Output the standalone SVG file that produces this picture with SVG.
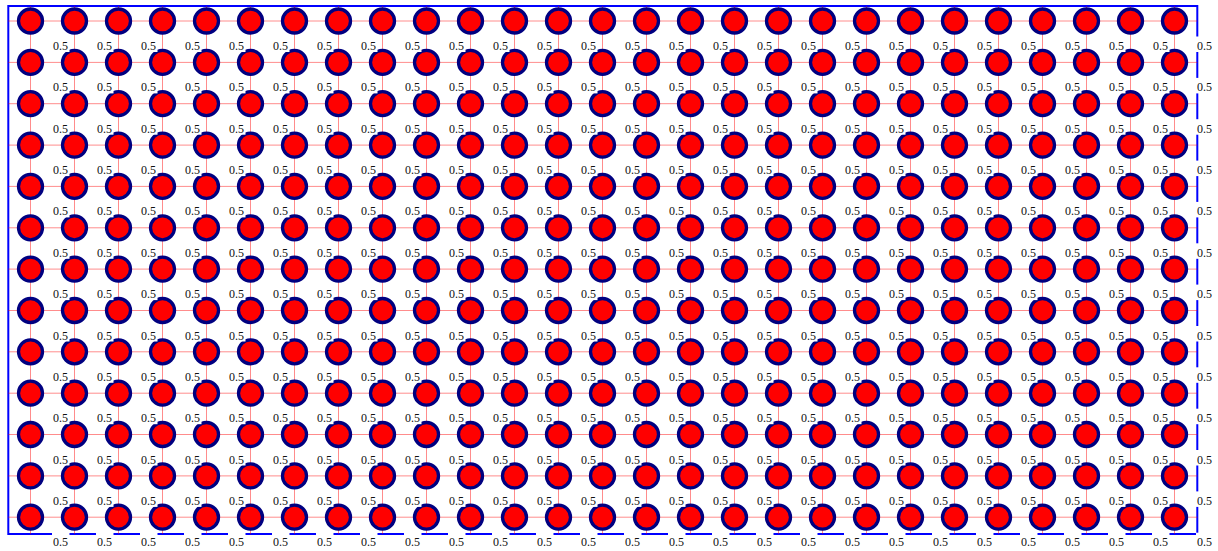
<svg xmlns="http://www.w3.org/2000/svg" width="1218" height="551" viewBox="0 0 1218 551">
<style>
#frame{fill:none;stroke:#0000ff;stroke-width:2}
#connectors line{stroke:#ff0000;stroke-opacity:0.45;stroke-width:1}
.n circle{fill:#ff0000;stroke:#000080;stroke-width:3.3}
.n rect{fill:#ffffff}
.n text{font-family:"Liberation Serif","Times New Roman",serif;font-size:12px;fill:#111}
</style>
<rect id="frame" x="8.3" y="6" width="1189" height="528"/>
<g id="connectors">
<line x1="8.3" x2="1197.3" y1="21" y2="21"/><line x1="8.3" x2="1197.3" y1="62.4" y2="62.4"/><line x1="8.3" x2="1197.3" y1="103.7" y2="103.7"/><line x1="8.3" x2="1197.3" y1="145.1" y2="145.1"/><line x1="8.3" x2="1197.3" y1="186.4" y2="186.4"/><line x1="8.3" x2="1197.3" y1="227.8" y2="227.8"/><line x1="8.3" x2="1197.3" y1="269.1" y2="269.1"/><line x1="8.3" x2="1197.3" y1="310.5" y2="310.5"/><line x1="8.3" x2="1197.3" y1="351.8" y2="351.8"/><line x1="8.3" x2="1197.3" y1="393.2" y2="393.2"/><line x1="8.3" x2="1197.3" y1="434.5" y2="434.5"/><line x1="8.3" x2="1197.3" y1="475.9" y2="475.9"/><line x1="8.3" x2="1197.3" y1="517.2" y2="517.2"/>
<line y1="6" y2="534" x1="30.5" x2="30.5"/><line y1="6" y2="534" x1="74.5" x2="74.5"/><line y1="6" y2="534" x1="118.5" x2="118.5"/><line y1="6" y2="534" x1="162.5" x2="162.5"/><line y1="6" y2="534" x1="206.5" x2="206.5"/><line y1="6" y2="534" x1="250.5" x2="250.5"/><line y1="6" y2="534" x1="294.5" x2="294.5"/><line y1="6" y2="534" x1="338.5" x2="338.5"/><line y1="6" y2="534" x1="382.5" x2="382.5"/><line y1="6" y2="534" x1="426.5" x2="426.5"/><line y1="6" y2="534" x1="470.5" x2="470.5"/><line y1="6" y2="534" x1="514.5" x2="514.5"/><line y1="6" y2="534" x1="558.5" x2="558.5"/><line y1="6" y2="534" x1="602.5" x2="602.5"/><line y1="6" y2="534" x1="646.5" x2="646.5"/><line y1="6" y2="534" x1="690.5" x2="690.5"/><line y1="6" y2="534" x1="734.5" x2="734.5"/><line y1="6" y2="534" x1="778.5" x2="778.5"/><line y1="6" y2="534" x1="822.5" x2="822.5"/><line y1="6" y2="534" x1="866.5" x2="866.5"/><line y1="6" y2="534" x1="910.5" x2="910.5"/><line y1="6" y2="534" x1="954.5" x2="954.5"/><line y1="6" y2="534" x1="998.5" x2="998.5"/><line y1="6" y2="534" x1="1042.5" x2="1042.5"/><line y1="6" y2="534" x1="1086.5" x2="1086.5"/><line y1="6" y2="534" x1="1130.5" x2="1130.5"/><line y1="6" y2="534" x1="1174.5" x2="1174.5"/>
</g>
<g id="nodes">
<g id="n12-26" class="n" transform="translate(1174.5 517.2)"><circle r="12"/><rect x="21.5" y="15.5" width="17.5" height="15.5"/><text x="22.5" y="29">0.5</text></g>
<g id="n12-25" class="n" transform="translate(1130.5 517.2)"><circle r="12"/><rect x="21.5" y="15.5" width="17.5" height="15.5"/><text x="22.5" y="29">0.5</text></g>
<g id="n12-24" class="n" transform="translate(1086.5 517.2)"><circle r="12"/><rect x="21.5" y="15.5" width="17.5" height="15.5"/><text x="22.5" y="29">0.5</text></g>
<g id="n12-23" class="n" transform="translate(1042.5 517.2)"><circle r="12"/><rect x="21.5" y="15.5" width="17.5" height="15.5"/><text x="22.5" y="29">0.5</text></g>
<g id="n12-22" class="n" transform="translate(998.5 517.2)"><circle r="12"/><rect x="21.5" y="15.5" width="17.5" height="15.5"/><text x="22.5" y="29">0.5</text></g>
<g id="n12-21" class="n" transform="translate(954.5 517.2)"><circle r="12"/><rect x="21.5" y="15.5" width="17.5" height="15.5"/><text x="22.5" y="29">0.5</text></g>
<g id="n12-20" class="n" transform="translate(910.5 517.2)"><circle r="12"/><rect x="21.5" y="15.5" width="17.5" height="15.5"/><text x="22.5" y="29">0.5</text></g>
<g id="n12-19" class="n" transform="translate(866.5 517.2)"><circle r="12"/><rect x="21.5" y="15.5" width="17.5" height="15.5"/><text x="22.5" y="29">0.5</text></g>
<g id="n12-18" class="n" transform="translate(822.5 517.2)"><circle r="12"/><rect x="21.5" y="15.5" width="17.5" height="15.5"/><text x="22.5" y="29">0.5</text></g>
<g id="n12-17" class="n" transform="translate(778.5 517.2)"><circle r="12"/><rect x="21.5" y="15.5" width="17.5" height="15.5"/><text x="22.5" y="29">0.5</text></g>
<g id="n12-16" class="n" transform="translate(734.5 517.2)"><circle r="12"/><rect x="21.5" y="15.5" width="17.5" height="15.5"/><text x="22.5" y="29">0.5</text></g>
<g id="n12-15" class="n" transform="translate(690.5 517.2)"><circle r="12"/><rect x="21.5" y="15.5" width="17.5" height="15.5"/><text x="22.5" y="29">0.5</text></g>
<g id="n12-14" class="n" transform="translate(646.5 517.2)"><circle r="12"/><rect x="21.5" y="15.5" width="17.5" height="15.5"/><text x="22.5" y="29">0.5</text></g>
<g id="n12-13" class="n" transform="translate(602.5 517.2)"><circle r="12"/><rect x="21.5" y="15.5" width="17.5" height="15.5"/><text x="22.5" y="29">0.5</text></g>
<g id="n12-12" class="n" transform="translate(558.5 517.2)"><circle r="12"/><rect x="21.5" y="15.5" width="17.5" height="15.5"/><text x="22.5" y="29">0.5</text></g>
<g id="n12-11" class="n" transform="translate(514.5 517.2)"><circle r="12"/><rect x="21.5" y="15.5" width="17.5" height="15.5"/><text x="22.5" y="29">0.5</text></g>
<g id="n12-10" class="n" transform="translate(470.5 517.2)"><circle r="12"/><rect x="21.5" y="15.5" width="17.5" height="15.5"/><text x="22.5" y="29">0.5</text></g>
<g id="n12-9" class="n" transform="translate(426.5 517.2)"><circle r="12"/><rect x="21.5" y="15.5" width="17.5" height="15.5"/><text x="22.5" y="29">0.5</text></g>
<g id="n12-8" class="n" transform="translate(382.5 517.2)"><circle r="12"/><rect x="21.5" y="15.5" width="17.5" height="15.5"/><text x="22.5" y="29">0.5</text></g>
<g id="n12-7" class="n" transform="translate(338.5 517.2)"><circle r="12"/><rect x="21.5" y="15.5" width="17.5" height="15.5"/><text x="22.5" y="29">0.5</text></g>
<g id="n12-6" class="n" transform="translate(294.5 517.2)"><circle r="12"/><rect x="21.5" y="15.5" width="17.5" height="15.5"/><text x="22.5" y="29">0.5</text></g>
<g id="n12-5" class="n" transform="translate(250.5 517.2)"><circle r="12"/><rect x="21.5" y="15.5" width="17.5" height="15.5"/><text x="22.5" y="29">0.5</text></g>
<g id="n12-4" class="n" transform="translate(206.5 517.2)"><circle r="12"/><rect x="21.5" y="15.5" width="17.5" height="15.5"/><text x="22.5" y="29">0.5</text></g>
<g id="n12-3" class="n" transform="translate(162.5 517.2)"><circle r="12"/><rect x="21.5" y="15.5" width="17.5" height="15.5"/><text x="22.5" y="29">0.5</text></g>
<g id="n12-2" class="n" transform="translate(118.5 517.2)"><circle r="12"/><rect x="21.5" y="15.5" width="17.5" height="15.5"/><text x="22.5" y="29">0.5</text></g>
<g id="n12-1" class="n" transform="translate(74.5 517.2)"><circle r="12"/><rect x="21.5" y="15.5" width="17.5" height="15.5"/><text x="22.5" y="29">0.5</text></g>
<g id="n12-0" class="n" transform="translate(30.5 517.2)"><circle r="12"/><rect x="21.5" y="15.5" width="17.5" height="15.5"/><text x="22.5" y="29">0.5</text></g>
<g id="n11-26" class="n" transform="translate(1174.5 475.9)"><circle r="12"/><rect x="21.5" y="15.5" width="17.5" height="15.5"/><text x="22.5" y="29">0.5</text></g>
<g id="n11-25" class="n" transform="translate(1130.5 475.9)"><circle r="12"/><rect x="21.5" y="15.5" width="17.5" height="15.5"/><text x="22.5" y="29">0.5</text></g>
<g id="n11-24" class="n" transform="translate(1086.5 475.9)"><circle r="12"/><rect x="21.5" y="15.5" width="17.5" height="15.5"/><text x="22.5" y="29">0.5</text></g>
<g id="n11-23" class="n" transform="translate(1042.5 475.9)"><circle r="12"/><rect x="21.5" y="15.5" width="17.5" height="15.5"/><text x="22.5" y="29">0.5</text></g>
<g id="n11-22" class="n" transform="translate(998.5 475.9)"><circle r="12"/><rect x="21.5" y="15.5" width="17.5" height="15.5"/><text x="22.5" y="29">0.5</text></g>
<g id="n11-21" class="n" transform="translate(954.5 475.9)"><circle r="12"/><rect x="21.5" y="15.5" width="17.5" height="15.5"/><text x="22.5" y="29">0.5</text></g>
<g id="n11-20" class="n" transform="translate(910.5 475.9)"><circle r="12"/><rect x="21.5" y="15.5" width="17.5" height="15.5"/><text x="22.5" y="29">0.5</text></g>
<g id="n11-19" class="n" transform="translate(866.5 475.9)"><circle r="12"/><rect x="21.5" y="15.5" width="17.5" height="15.5"/><text x="22.5" y="29">0.5</text></g>
<g id="n11-18" class="n" transform="translate(822.5 475.9)"><circle r="12"/><rect x="21.5" y="15.5" width="17.5" height="15.5"/><text x="22.5" y="29">0.5</text></g>
<g id="n11-17" class="n" transform="translate(778.5 475.9)"><circle r="12"/><rect x="21.5" y="15.5" width="17.5" height="15.5"/><text x="22.5" y="29">0.5</text></g>
<g id="n11-16" class="n" transform="translate(734.5 475.9)"><circle r="12"/><rect x="21.5" y="15.5" width="17.5" height="15.5"/><text x="22.5" y="29">0.5</text></g>
<g id="n11-15" class="n" transform="translate(690.5 475.9)"><circle r="12"/><rect x="21.5" y="15.5" width="17.5" height="15.5"/><text x="22.5" y="29">0.5</text></g>
<g id="n11-14" class="n" transform="translate(646.5 475.9)"><circle r="12"/><rect x="21.5" y="15.5" width="17.5" height="15.5"/><text x="22.5" y="29">0.5</text></g>
<g id="n11-13" class="n" transform="translate(602.5 475.9)"><circle r="12"/><rect x="21.5" y="15.5" width="17.5" height="15.5"/><text x="22.5" y="29">0.5</text></g>
<g id="n11-12" class="n" transform="translate(558.5 475.9)"><circle r="12"/><rect x="21.5" y="15.5" width="17.5" height="15.5"/><text x="22.5" y="29">0.5</text></g>
<g id="n11-11" class="n" transform="translate(514.5 475.9)"><circle r="12"/><rect x="21.5" y="15.5" width="17.5" height="15.5"/><text x="22.5" y="29">0.5</text></g>
<g id="n11-10" class="n" transform="translate(470.5 475.9)"><circle r="12"/><rect x="21.5" y="15.5" width="17.5" height="15.5"/><text x="22.5" y="29">0.5</text></g>
<g id="n11-9" class="n" transform="translate(426.5 475.9)"><circle r="12"/><rect x="21.5" y="15.5" width="17.5" height="15.5"/><text x="22.5" y="29">0.5</text></g>
<g id="n11-8" class="n" transform="translate(382.5 475.9)"><circle r="12"/><rect x="21.5" y="15.5" width="17.5" height="15.5"/><text x="22.5" y="29">0.5</text></g>
<g id="n11-7" class="n" transform="translate(338.5 475.9)"><circle r="12"/><rect x="21.5" y="15.5" width="17.5" height="15.5"/><text x="22.5" y="29">0.5</text></g>
<g id="n11-6" class="n" transform="translate(294.5 475.9)"><circle r="12"/><rect x="21.5" y="15.5" width="17.5" height="15.5"/><text x="22.5" y="29">0.5</text></g>
<g id="n11-5" class="n" transform="translate(250.5 475.9)"><circle r="12"/><rect x="21.5" y="15.5" width="17.5" height="15.5"/><text x="22.5" y="29">0.5</text></g>
<g id="n11-4" class="n" transform="translate(206.5 475.9)"><circle r="12"/><rect x="21.5" y="15.5" width="17.5" height="15.5"/><text x="22.5" y="29">0.5</text></g>
<g id="n11-3" class="n" transform="translate(162.5 475.9)"><circle r="12"/><rect x="21.5" y="15.5" width="17.5" height="15.5"/><text x="22.5" y="29">0.5</text></g>
<g id="n11-2" class="n" transform="translate(118.5 475.9)"><circle r="12"/><rect x="21.5" y="15.5" width="17.5" height="15.5"/><text x="22.5" y="29">0.5</text></g>
<g id="n11-1" class="n" transform="translate(74.5 475.9)"><circle r="12"/><rect x="21.5" y="15.5" width="17.5" height="15.5"/><text x="22.5" y="29">0.5</text></g>
<g id="n11-0" class="n" transform="translate(30.5 475.9)"><circle r="12"/><rect x="21.5" y="15.5" width="17.5" height="15.5"/><text x="22.5" y="29">0.5</text></g>
<g id="n10-26" class="n" transform="translate(1174.5 434.5)"><circle r="12"/><rect x="21.5" y="15.5" width="17.5" height="15.5"/><text x="22.5" y="29">0.5</text></g>
<g id="n10-25" class="n" transform="translate(1130.5 434.5)"><circle r="12"/><rect x="21.5" y="15.5" width="17.5" height="15.5"/><text x="22.5" y="29">0.5</text></g>
<g id="n10-24" class="n" transform="translate(1086.5 434.5)"><circle r="12"/><rect x="21.5" y="15.5" width="17.5" height="15.5"/><text x="22.5" y="29">0.5</text></g>
<g id="n10-23" class="n" transform="translate(1042.5 434.5)"><circle r="12"/><rect x="21.5" y="15.5" width="17.5" height="15.5"/><text x="22.5" y="29">0.5</text></g>
<g id="n10-22" class="n" transform="translate(998.5 434.5)"><circle r="12"/><rect x="21.5" y="15.5" width="17.5" height="15.5"/><text x="22.5" y="29">0.5</text></g>
<g id="n10-21" class="n" transform="translate(954.5 434.5)"><circle r="12"/><rect x="21.5" y="15.5" width="17.5" height="15.5"/><text x="22.5" y="29">0.5</text></g>
<g id="n10-20" class="n" transform="translate(910.5 434.5)"><circle r="12"/><rect x="21.5" y="15.5" width="17.5" height="15.5"/><text x="22.5" y="29">0.5</text></g>
<g id="n10-19" class="n" transform="translate(866.5 434.5)"><circle r="12"/><rect x="21.5" y="15.5" width="17.5" height="15.5"/><text x="22.5" y="29">0.5</text></g>
<g id="n10-18" class="n" transform="translate(822.5 434.5)"><circle r="12"/><rect x="21.5" y="15.5" width="17.5" height="15.5"/><text x="22.5" y="29">0.5</text></g>
<g id="n10-17" class="n" transform="translate(778.5 434.5)"><circle r="12"/><rect x="21.5" y="15.5" width="17.5" height="15.5"/><text x="22.5" y="29">0.5</text></g>
<g id="n10-16" class="n" transform="translate(734.5 434.5)"><circle r="12"/><rect x="21.5" y="15.5" width="17.5" height="15.5"/><text x="22.5" y="29">0.5</text></g>
<g id="n10-15" class="n" transform="translate(690.5 434.5)"><circle r="12"/><rect x="21.5" y="15.5" width="17.5" height="15.5"/><text x="22.5" y="29">0.5</text></g>
<g id="n10-14" class="n" transform="translate(646.5 434.5)"><circle r="12"/><rect x="21.5" y="15.5" width="17.5" height="15.5"/><text x="22.5" y="29">0.5</text></g>
<g id="n10-13" class="n" transform="translate(602.5 434.5)"><circle r="12"/><rect x="21.5" y="15.5" width="17.5" height="15.5"/><text x="22.5" y="29">0.5</text></g>
<g id="n10-12" class="n" transform="translate(558.5 434.5)"><circle r="12"/><rect x="21.5" y="15.5" width="17.5" height="15.5"/><text x="22.5" y="29">0.5</text></g>
<g id="n10-11" class="n" transform="translate(514.5 434.5)"><circle r="12"/><rect x="21.5" y="15.5" width="17.5" height="15.5"/><text x="22.5" y="29">0.5</text></g>
<g id="n10-10" class="n" transform="translate(470.5 434.5)"><circle r="12"/><rect x="21.5" y="15.5" width="17.5" height="15.5"/><text x="22.5" y="29">0.5</text></g>
<g id="n10-9" class="n" transform="translate(426.5 434.5)"><circle r="12"/><rect x="21.5" y="15.5" width="17.5" height="15.5"/><text x="22.5" y="29">0.5</text></g>
<g id="n10-8" class="n" transform="translate(382.5 434.5)"><circle r="12"/><rect x="21.5" y="15.5" width="17.5" height="15.5"/><text x="22.5" y="29">0.5</text></g>
<g id="n10-7" class="n" transform="translate(338.5 434.5)"><circle r="12"/><rect x="21.5" y="15.5" width="17.5" height="15.5"/><text x="22.5" y="29">0.5</text></g>
<g id="n10-6" class="n" transform="translate(294.5 434.5)"><circle r="12"/><rect x="21.5" y="15.5" width="17.5" height="15.5"/><text x="22.5" y="29">0.5</text></g>
<g id="n10-5" class="n" transform="translate(250.5 434.5)"><circle r="12"/><rect x="21.5" y="15.5" width="17.5" height="15.5"/><text x="22.5" y="29">0.5</text></g>
<g id="n10-4" class="n" transform="translate(206.5 434.5)"><circle r="12"/><rect x="21.5" y="15.5" width="17.5" height="15.5"/><text x="22.5" y="29">0.5</text></g>
<g id="n10-3" class="n" transform="translate(162.5 434.5)"><circle r="12"/><rect x="21.5" y="15.5" width="17.5" height="15.5"/><text x="22.5" y="29">0.5</text></g>
<g id="n10-2" class="n" transform="translate(118.5 434.5)"><circle r="12"/><rect x="21.5" y="15.5" width="17.5" height="15.5"/><text x="22.5" y="29">0.5</text></g>
<g id="n10-1" class="n" transform="translate(74.5 434.5)"><circle r="12"/><rect x="21.5" y="15.5" width="17.5" height="15.5"/><text x="22.5" y="29">0.5</text></g>
<g id="n10-0" class="n" transform="translate(30.5 434.5)"><circle r="12"/><rect x="21.5" y="15.5" width="17.5" height="15.5"/><text x="22.5" y="29">0.5</text></g>
<g id="n9-26" class="n" transform="translate(1174.5 393.2)"><circle r="12"/><rect x="21.5" y="15.5" width="17.5" height="15.5"/><text x="22.5" y="29">0.5</text></g>
<g id="n9-25" class="n" transform="translate(1130.5 393.2)"><circle r="12"/><rect x="21.5" y="15.5" width="17.5" height="15.5"/><text x="22.5" y="29">0.5</text></g>
<g id="n9-24" class="n" transform="translate(1086.5 393.2)"><circle r="12"/><rect x="21.5" y="15.5" width="17.5" height="15.5"/><text x="22.5" y="29">0.5</text></g>
<g id="n9-23" class="n" transform="translate(1042.5 393.2)"><circle r="12"/><rect x="21.5" y="15.5" width="17.5" height="15.5"/><text x="22.5" y="29">0.5</text></g>
<g id="n9-22" class="n" transform="translate(998.5 393.2)"><circle r="12"/><rect x="21.5" y="15.5" width="17.5" height="15.5"/><text x="22.5" y="29">0.5</text></g>
<g id="n9-21" class="n" transform="translate(954.5 393.2)"><circle r="12"/><rect x="21.5" y="15.5" width="17.5" height="15.5"/><text x="22.5" y="29">0.5</text></g>
<g id="n9-20" class="n" transform="translate(910.5 393.2)"><circle r="12"/><rect x="21.5" y="15.5" width="17.5" height="15.5"/><text x="22.5" y="29">0.5</text></g>
<g id="n9-19" class="n" transform="translate(866.5 393.2)"><circle r="12"/><rect x="21.5" y="15.5" width="17.5" height="15.5"/><text x="22.5" y="29">0.5</text></g>
<g id="n9-18" class="n" transform="translate(822.5 393.2)"><circle r="12"/><rect x="21.5" y="15.5" width="17.5" height="15.5"/><text x="22.5" y="29">0.5</text></g>
<g id="n9-17" class="n" transform="translate(778.5 393.2)"><circle r="12"/><rect x="21.5" y="15.5" width="17.5" height="15.5"/><text x="22.5" y="29">0.5</text></g>
<g id="n9-16" class="n" transform="translate(734.5 393.2)"><circle r="12"/><rect x="21.5" y="15.5" width="17.5" height="15.5"/><text x="22.5" y="29">0.5</text></g>
<g id="n9-15" class="n" transform="translate(690.5 393.2)"><circle r="12"/><rect x="21.5" y="15.5" width="17.5" height="15.5"/><text x="22.5" y="29">0.5</text></g>
<g id="n9-14" class="n" transform="translate(646.5 393.2)"><circle r="12"/><rect x="21.5" y="15.5" width="17.5" height="15.5"/><text x="22.5" y="29">0.5</text></g>
<g id="n9-13" class="n" transform="translate(602.5 393.2)"><circle r="12"/><rect x="21.5" y="15.5" width="17.5" height="15.5"/><text x="22.5" y="29">0.5</text></g>
<g id="n9-12" class="n" transform="translate(558.5 393.2)"><circle r="12"/><rect x="21.5" y="15.5" width="17.5" height="15.5"/><text x="22.5" y="29">0.5</text></g>
<g id="n9-11" class="n" transform="translate(514.5 393.2)"><circle r="12"/><rect x="21.5" y="15.5" width="17.5" height="15.5"/><text x="22.5" y="29">0.5</text></g>
<g id="n9-10" class="n" transform="translate(470.5 393.2)"><circle r="12"/><rect x="21.5" y="15.5" width="17.5" height="15.5"/><text x="22.5" y="29">0.5</text></g>
<g id="n9-9" class="n" transform="translate(426.5 393.2)"><circle r="12"/><rect x="21.5" y="15.5" width="17.5" height="15.5"/><text x="22.5" y="29">0.5</text></g>
<g id="n9-8" class="n" transform="translate(382.5 393.2)"><circle r="12"/><rect x="21.5" y="15.5" width="17.5" height="15.5"/><text x="22.5" y="29">0.5</text></g>
<g id="n9-7" class="n" transform="translate(338.5 393.2)"><circle r="12"/><rect x="21.5" y="15.5" width="17.5" height="15.5"/><text x="22.5" y="29">0.5</text></g>
<g id="n9-6" class="n" transform="translate(294.5 393.2)"><circle r="12"/><rect x="21.5" y="15.5" width="17.5" height="15.5"/><text x="22.5" y="29">0.5</text></g>
<g id="n9-5" class="n" transform="translate(250.5 393.2)"><circle r="12"/><rect x="21.5" y="15.5" width="17.5" height="15.5"/><text x="22.5" y="29">0.5</text></g>
<g id="n9-4" class="n" transform="translate(206.5 393.2)"><circle r="12"/><rect x="21.5" y="15.5" width="17.5" height="15.5"/><text x="22.5" y="29">0.5</text></g>
<g id="n9-3" class="n" transform="translate(162.5 393.2)"><circle r="12"/><rect x="21.5" y="15.5" width="17.5" height="15.5"/><text x="22.5" y="29">0.5</text></g>
<g id="n9-2" class="n" transform="translate(118.5 393.2)"><circle r="12"/><rect x="21.5" y="15.5" width="17.5" height="15.5"/><text x="22.5" y="29">0.5</text></g>
<g id="n9-1" class="n" transform="translate(74.5 393.2)"><circle r="12"/><rect x="21.5" y="15.5" width="17.5" height="15.5"/><text x="22.5" y="29">0.5</text></g>
<g id="n9-0" class="n" transform="translate(30.5 393.2)"><circle r="12"/><rect x="21.5" y="15.5" width="17.5" height="15.5"/><text x="22.5" y="29">0.5</text></g>
<g id="n8-26" class="n" transform="translate(1174.5 351.8)"><circle r="12"/><rect x="21.5" y="15.5" width="17.5" height="15.5"/><text x="22.5" y="29">0.5</text></g>
<g id="n8-25" class="n" transform="translate(1130.5 351.8)"><circle r="12"/><rect x="21.5" y="15.5" width="17.5" height="15.5"/><text x="22.5" y="29">0.5</text></g>
<g id="n8-24" class="n" transform="translate(1086.5 351.8)"><circle r="12"/><rect x="21.5" y="15.5" width="17.5" height="15.5"/><text x="22.5" y="29">0.5</text></g>
<g id="n8-23" class="n" transform="translate(1042.5 351.8)"><circle r="12"/><rect x="21.5" y="15.5" width="17.5" height="15.5"/><text x="22.5" y="29">0.5</text></g>
<g id="n8-22" class="n" transform="translate(998.5 351.8)"><circle r="12"/><rect x="21.5" y="15.5" width="17.5" height="15.5"/><text x="22.5" y="29">0.5</text></g>
<g id="n8-21" class="n" transform="translate(954.5 351.8)"><circle r="12"/><rect x="21.5" y="15.5" width="17.5" height="15.5"/><text x="22.5" y="29">0.5</text></g>
<g id="n8-20" class="n" transform="translate(910.5 351.8)"><circle r="12"/><rect x="21.5" y="15.5" width="17.5" height="15.5"/><text x="22.5" y="29">0.5</text></g>
<g id="n8-19" class="n" transform="translate(866.5 351.8)"><circle r="12"/><rect x="21.5" y="15.5" width="17.5" height="15.5"/><text x="22.5" y="29">0.5</text></g>
<g id="n8-18" class="n" transform="translate(822.5 351.8)"><circle r="12"/><rect x="21.5" y="15.5" width="17.5" height="15.5"/><text x="22.5" y="29">0.5</text></g>
<g id="n8-17" class="n" transform="translate(778.5 351.8)"><circle r="12"/><rect x="21.5" y="15.5" width="17.5" height="15.5"/><text x="22.5" y="29">0.5</text></g>
<g id="n8-16" class="n" transform="translate(734.5 351.8)"><circle r="12"/><rect x="21.5" y="15.5" width="17.5" height="15.5"/><text x="22.5" y="29">0.5</text></g>
<g id="n8-15" class="n" transform="translate(690.5 351.8)"><circle r="12"/><rect x="21.5" y="15.5" width="17.5" height="15.5"/><text x="22.5" y="29">0.5</text></g>
<g id="n8-14" class="n" transform="translate(646.5 351.8)"><circle r="12"/><rect x="21.5" y="15.5" width="17.5" height="15.5"/><text x="22.5" y="29">0.5</text></g>
<g id="n8-13" class="n" transform="translate(602.5 351.8)"><circle r="12"/><rect x="21.5" y="15.5" width="17.5" height="15.5"/><text x="22.5" y="29">0.5</text></g>
<g id="n8-12" class="n" transform="translate(558.5 351.8)"><circle r="12"/><rect x="21.5" y="15.5" width="17.5" height="15.5"/><text x="22.5" y="29">0.5</text></g>
<g id="n8-11" class="n" transform="translate(514.5 351.8)"><circle r="12"/><rect x="21.5" y="15.5" width="17.5" height="15.5"/><text x="22.5" y="29">0.5</text></g>
<g id="n8-10" class="n" transform="translate(470.5 351.8)"><circle r="12"/><rect x="21.5" y="15.5" width="17.5" height="15.5"/><text x="22.5" y="29">0.5</text></g>
<g id="n8-9" class="n" transform="translate(426.5 351.8)"><circle r="12"/><rect x="21.5" y="15.5" width="17.5" height="15.5"/><text x="22.5" y="29">0.5</text></g>
<g id="n8-8" class="n" transform="translate(382.5 351.8)"><circle r="12"/><rect x="21.5" y="15.5" width="17.5" height="15.5"/><text x="22.5" y="29">0.5</text></g>
<g id="n8-7" class="n" transform="translate(338.5 351.8)"><circle r="12"/><rect x="21.5" y="15.5" width="17.5" height="15.5"/><text x="22.5" y="29">0.5</text></g>
<g id="n8-6" class="n" transform="translate(294.5 351.8)"><circle r="12"/><rect x="21.5" y="15.5" width="17.5" height="15.5"/><text x="22.5" y="29">0.5</text></g>
<g id="n8-5" class="n" transform="translate(250.5 351.8)"><circle r="12"/><rect x="21.5" y="15.5" width="17.5" height="15.5"/><text x="22.5" y="29">0.5</text></g>
<g id="n8-4" class="n" transform="translate(206.5 351.8)"><circle r="12"/><rect x="21.5" y="15.5" width="17.5" height="15.5"/><text x="22.5" y="29">0.5</text></g>
<g id="n8-3" class="n" transform="translate(162.5 351.8)"><circle r="12"/><rect x="21.5" y="15.5" width="17.5" height="15.5"/><text x="22.5" y="29">0.5</text></g>
<g id="n8-2" class="n" transform="translate(118.5 351.8)"><circle r="12"/><rect x="21.5" y="15.5" width="17.5" height="15.5"/><text x="22.5" y="29">0.5</text></g>
<g id="n8-1" class="n" transform="translate(74.5 351.8)"><circle r="12"/><rect x="21.5" y="15.5" width="17.5" height="15.5"/><text x="22.5" y="29">0.5</text></g>
<g id="n8-0" class="n" transform="translate(30.5 351.8)"><circle r="12"/><rect x="21.5" y="15.5" width="17.5" height="15.5"/><text x="22.5" y="29">0.5</text></g>
<g id="n7-26" class="n" transform="translate(1174.5 310.5)"><circle r="12"/><rect x="21.5" y="15.5" width="17.5" height="15.5"/><text x="22.5" y="29">0.5</text></g>
<g id="n7-25" class="n" transform="translate(1130.5 310.5)"><circle r="12"/><rect x="21.5" y="15.5" width="17.5" height="15.5"/><text x="22.5" y="29">0.5</text></g>
<g id="n7-24" class="n" transform="translate(1086.5 310.5)"><circle r="12"/><rect x="21.5" y="15.5" width="17.5" height="15.5"/><text x="22.5" y="29">0.5</text></g>
<g id="n7-23" class="n" transform="translate(1042.5 310.5)"><circle r="12"/><rect x="21.5" y="15.5" width="17.5" height="15.5"/><text x="22.5" y="29">0.5</text></g>
<g id="n7-22" class="n" transform="translate(998.5 310.5)"><circle r="12"/><rect x="21.5" y="15.5" width="17.5" height="15.5"/><text x="22.5" y="29">0.5</text></g>
<g id="n7-21" class="n" transform="translate(954.5 310.5)"><circle r="12"/><rect x="21.5" y="15.5" width="17.5" height="15.5"/><text x="22.5" y="29">0.5</text></g>
<g id="n7-20" class="n" transform="translate(910.5 310.5)"><circle r="12"/><rect x="21.5" y="15.5" width="17.5" height="15.5"/><text x="22.5" y="29">0.5</text></g>
<g id="n7-19" class="n" transform="translate(866.5 310.5)"><circle r="12"/><rect x="21.5" y="15.5" width="17.5" height="15.5"/><text x="22.5" y="29">0.5</text></g>
<g id="n7-18" class="n" transform="translate(822.5 310.5)"><circle r="12"/><rect x="21.5" y="15.5" width="17.5" height="15.5"/><text x="22.5" y="29">0.5</text></g>
<g id="n7-17" class="n" transform="translate(778.5 310.5)"><circle r="12"/><rect x="21.5" y="15.5" width="17.5" height="15.5"/><text x="22.5" y="29">0.5</text></g>
<g id="n7-16" class="n" transform="translate(734.5 310.5)"><circle r="12"/><rect x="21.5" y="15.5" width="17.5" height="15.5"/><text x="22.5" y="29">0.5</text></g>
<g id="n7-15" class="n" transform="translate(690.5 310.5)"><circle r="12"/><rect x="21.5" y="15.5" width="17.5" height="15.5"/><text x="22.5" y="29">0.5</text></g>
<g id="n7-14" class="n" transform="translate(646.5 310.5)"><circle r="12"/><rect x="21.5" y="15.5" width="17.5" height="15.5"/><text x="22.5" y="29">0.5</text></g>
<g id="n7-13" class="n" transform="translate(602.5 310.5)"><circle r="12"/><rect x="21.5" y="15.5" width="17.5" height="15.5"/><text x="22.5" y="29">0.5</text></g>
<g id="n7-12" class="n" transform="translate(558.5 310.5)"><circle r="12"/><rect x="21.5" y="15.5" width="17.5" height="15.5"/><text x="22.5" y="29">0.5</text></g>
<g id="n7-11" class="n" transform="translate(514.5 310.5)"><circle r="12"/><rect x="21.5" y="15.5" width="17.5" height="15.5"/><text x="22.5" y="29">0.5</text></g>
<g id="n7-10" class="n" transform="translate(470.5 310.5)"><circle r="12"/><rect x="21.5" y="15.5" width="17.5" height="15.5"/><text x="22.5" y="29">0.5</text></g>
<g id="n7-9" class="n" transform="translate(426.5 310.5)"><circle r="12"/><rect x="21.5" y="15.5" width="17.5" height="15.5"/><text x="22.5" y="29">0.5</text></g>
<g id="n7-8" class="n" transform="translate(382.5 310.5)"><circle r="12"/><rect x="21.5" y="15.5" width="17.5" height="15.5"/><text x="22.5" y="29">0.5</text></g>
<g id="n7-7" class="n" transform="translate(338.5 310.5)"><circle r="12"/><rect x="21.5" y="15.5" width="17.5" height="15.5"/><text x="22.5" y="29">0.5</text></g>
<g id="n7-6" class="n" transform="translate(294.5 310.5)"><circle r="12"/><rect x="21.5" y="15.5" width="17.5" height="15.5"/><text x="22.5" y="29">0.5</text></g>
<g id="n7-5" class="n" transform="translate(250.5 310.5)"><circle r="12"/><rect x="21.5" y="15.5" width="17.5" height="15.5"/><text x="22.5" y="29">0.5</text></g>
<g id="n7-4" class="n" transform="translate(206.5 310.5)"><circle r="12"/><rect x="21.5" y="15.5" width="17.5" height="15.5"/><text x="22.5" y="29">0.5</text></g>
<g id="n7-3" class="n" transform="translate(162.5 310.5)"><circle r="12"/><rect x="21.5" y="15.5" width="17.5" height="15.5"/><text x="22.5" y="29">0.5</text></g>
<g id="n7-2" class="n" transform="translate(118.5 310.5)"><circle r="12"/><rect x="21.5" y="15.5" width="17.5" height="15.5"/><text x="22.5" y="29">0.5</text></g>
<g id="n7-1" class="n" transform="translate(74.5 310.5)"><circle r="12"/><rect x="21.5" y="15.5" width="17.5" height="15.5"/><text x="22.5" y="29">0.5</text></g>
<g id="n7-0" class="n" transform="translate(30.5 310.5)"><circle r="12"/><rect x="21.5" y="15.5" width="17.5" height="15.5"/><text x="22.5" y="29">0.5</text></g>
<g id="n6-26" class="n" transform="translate(1174.5 269.1)"><circle r="12"/><rect x="21.5" y="15.5" width="17.5" height="15.5"/><text x="22.5" y="29">0.5</text></g>
<g id="n6-25" class="n" transform="translate(1130.5 269.1)"><circle r="12"/><rect x="21.5" y="15.5" width="17.5" height="15.5"/><text x="22.5" y="29">0.5</text></g>
<g id="n6-24" class="n" transform="translate(1086.5 269.1)"><circle r="12"/><rect x="21.5" y="15.5" width="17.5" height="15.5"/><text x="22.5" y="29">0.5</text></g>
<g id="n6-23" class="n" transform="translate(1042.5 269.1)"><circle r="12"/><rect x="21.5" y="15.5" width="17.5" height="15.5"/><text x="22.5" y="29">0.5</text></g>
<g id="n6-22" class="n" transform="translate(998.5 269.1)"><circle r="12"/><rect x="21.5" y="15.5" width="17.5" height="15.5"/><text x="22.5" y="29">0.5</text></g>
<g id="n6-21" class="n" transform="translate(954.5 269.1)"><circle r="12"/><rect x="21.5" y="15.5" width="17.5" height="15.5"/><text x="22.5" y="29">0.5</text></g>
<g id="n6-20" class="n" transform="translate(910.5 269.1)"><circle r="12"/><rect x="21.5" y="15.5" width="17.5" height="15.5"/><text x="22.5" y="29">0.5</text></g>
<g id="n6-19" class="n" transform="translate(866.5 269.1)"><circle r="12"/><rect x="21.5" y="15.5" width="17.5" height="15.5"/><text x="22.5" y="29">0.5</text></g>
<g id="n6-18" class="n" transform="translate(822.5 269.1)"><circle r="12"/><rect x="21.5" y="15.5" width="17.5" height="15.5"/><text x="22.5" y="29">0.5</text></g>
<g id="n6-17" class="n" transform="translate(778.5 269.1)"><circle r="12"/><rect x="21.5" y="15.5" width="17.5" height="15.5"/><text x="22.5" y="29">0.5</text></g>
<g id="n6-16" class="n" transform="translate(734.5 269.1)"><circle r="12"/><rect x="21.5" y="15.5" width="17.5" height="15.5"/><text x="22.5" y="29">0.5</text></g>
<g id="n6-15" class="n" transform="translate(690.5 269.1)"><circle r="12"/><rect x="21.5" y="15.5" width="17.5" height="15.5"/><text x="22.5" y="29">0.5</text></g>
<g id="n6-14" class="n" transform="translate(646.5 269.1)"><circle r="12"/><rect x="21.5" y="15.5" width="17.5" height="15.5"/><text x="22.5" y="29">0.5</text></g>
<g id="n6-13" class="n" transform="translate(602.5 269.1)"><circle r="12"/><rect x="21.5" y="15.5" width="17.5" height="15.5"/><text x="22.5" y="29">0.5</text></g>
<g id="n6-12" class="n" transform="translate(558.5 269.1)"><circle r="12"/><rect x="21.5" y="15.5" width="17.5" height="15.5"/><text x="22.5" y="29">0.5</text></g>
<g id="n6-11" class="n" transform="translate(514.5 269.1)"><circle r="12"/><rect x="21.5" y="15.5" width="17.5" height="15.5"/><text x="22.5" y="29">0.5</text></g>
<g id="n6-10" class="n" transform="translate(470.5 269.1)"><circle r="12"/><rect x="21.5" y="15.5" width="17.5" height="15.5"/><text x="22.5" y="29">0.5</text></g>
<g id="n6-9" class="n" transform="translate(426.5 269.1)"><circle r="12"/><rect x="21.5" y="15.5" width="17.5" height="15.5"/><text x="22.5" y="29">0.5</text></g>
<g id="n6-8" class="n" transform="translate(382.5 269.1)"><circle r="12"/><rect x="21.5" y="15.5" width="17.5" height="15.5"/><text x="22.5" y="29">0.5</text></g>
<g id="n6-7" class="n" transform="translate(338.5 269.1)"><circle r="12"/><rect x="21.5" y="15.5" width="17.5" height="15.5"/><text x="22.5" y="29">0.5</text></g>
<g id="n6-6" class="n" transform="translate(294.5 269.1)"><circle r="12"/><rect x="21.5" y="15.5" width="17.5" height="15.5"/><text x="22.5" y="29">0.5</text></g>
<g id="n6-5" class="n" transform="translate(250.5 269.1)"><circle r="12"/><rect x="21.5" y="15.5" width="17.5" height="15.5"/><text x="22.5" y="29">0.5</text></g>
<g id="n6-4" class="n" transform="translate(206.5 269.1)"><circle r="12"/><rect x="21.5" y="15.5" width="17.5" height="15.5"/><text x="22.5" y="29">0.5</text></g>
<g id="n6-3" class="n" transform="translate(162.5 269.1)"><circle r="12"/><rect x="21.5" y="15.5" width="17.5" height="15.5"/><text x="22.5" y="29">0.5</text></g>
<g id="n6-2" class="n" transform="translate(118.5 269.1)"><circle r="12"/><rect x="21.5" y="15.5" width="17.5" height="15.5"/><text x="22.5" y="29">0.5</text></g>
<g id="n6-1" class="n" transform="translate(74.5 269.1)"><circle r="12"/><rect x="21.5" y="15.5" width="17.5" height="15.5"/><text x="22.5" y="29">0.5</text></g>
<g id="n6-0" class="n" transform="translate(30.5 269.1)"><circle r="12"/><rect x="21.5" y="15.5" width="17.5" height="15.5"/><text x="22.5" y="29">0.5</text></g>
<g id="n5-26" class="n" transform="translate(1174.5 227.8)"><circle r="12"/><rect x="21.5" y="15.5" width="17.5" height="15.5"/><text x="22.5" y="29">0.5</text></g>
<g id="n5-25" class="n" transform="translate(1130.5 227.8)"><circle r="12"/><rect x="21.5" y="15.5" width="17.5" height="15.5"/><text x="22.5" y="29">0.5</text></g>
<g id="n5-24" class="n" transform="translate(1086.5 227.8)"><circle r="12"/><rect x="21.5" y="15.5" width="17.5" height="15.5"/><text x="22.5" y="29">0.5</text></g>
<g id="n5-23" class="n" transform="translate(1042.5 227.8)"><circle r="12"/><rect x="21.5" y="15.5" width="17.5" height="15.5"/><text x="22.5" y="29">0.5</text></g>
<g id="n5-22" class="n" transform="translate(998.5 227.8)"><circle r="12"/><rect x="21.5" y="15.5" width="17.5" height="15.5"/><text x="22.5" y="29">0.5</text></g>
<g id="n5-21" class="n" transform="translate(954.5 227.8)"><circle r="12"/><rect x="21.5" y="15.5" width="17.5" height="15.5"/><text x="22.5" y="29">0.5</text></g>
<g id="n5-20" class="n" transform="translate(910.5 227.8)"><circle r="12"/><rect x="21.5" y="15.5" width="17.5" height="15.5"/><text x="22.5" y="29">0.5</text></g>
<g id="n5-19" class="n" transform="translate(866.5 227.8)"><circle r="12"/><rect x="21.5" y="15.5" width="17.5" height="15.5"/><text x="22.5" y="29">0.5</text></g>
<g id="n5-18" class="n" transform="translate(822.5 227.8)"><circle r="12"/><rect x="21.5" y="15.5" width="17.5" height="15.5"/><text x="22.5" y="29">0.5</text></g>
<g id="n5-17" class="n" transform="translate(778.5 227.8)"><circle r="12"/><rect x="21.5" y="15.5" width="17.5" height="15.5"/><text x="22.5" y="29">0.5</text></g>
<g id="n5-16" class="n" transform="translate(734.5 227.8)"><circle r="12"/><rect x="21.5" y="15.5" width="17.5" height="15.5"/><text x="22.5" y="29">0.5</text></g>
<g id="n5-15" class="n" transform="translate(690.5 227.8)"><circle r="12"/><rect x="21.5" y="15.5" width="17.5" height="15.5"/><text x="22.5" y="29">0.5</text></g>
<g id="n5-14" class="n" transform="translate(646.5 227.8)"><circle r="12"/><rect x="21.5" y="15.5" width="17.5" height="15.5"/><text x="22.5" y="29">0.5</text></g>
<g id="n5-13" class="n" transform="translate(602.5 227.8)"><circle r="12"/><rect x="21.5" y="15.5" width="17.5" height="15.5"/><text x="22.5" y="29">0.5</text></g>
<g id="n5-12" class="n" transform="translate(558.5 227.8)"><circle r="12"/><rect x="21.5" y="15.5" width="17.5" height="15.5"/><text x="22.5" y="29">0.5</text></g>
<g id="n5-11" class="n" transform="translate(514.5 227.8)"><circle r="12"/><rect x="21.5" y="15.5" width="17.5" height="15.5"/><text x="22.5" y="29">0.5</text></g>
<g id="n5-10" class="n" transform="translate(470.5 227.8)"><circle r="12"/><rect x="21.5" y="15.5" width="17.5" height="15.5"/><text x="22.5" y="29">0.5</text></g>
<g id="n5-9" class="n" transform="translate(426.5 227.8)"><circle r="12"/><rect x="21.5" y="15.5" width="17.5" height="15.5"/><text x="22.5" y="29">0.5</text></g>
<g id="n5-8" class="n" transform="translate(382.5 227.8)"><circle r="12"/><rect x="21.5" y="15.5" width="17.5" height="15.5"/><text x="22.5" y="29">0.5</text></g>
<g id="n5-7" class="n" transform="translate(338.5 227.8)"><circle r="12"/><rect x="21.5" y="15.5" width="17.5" height="15.5"/><text x="22.5" y="29">0.5</text></g>
<g id="n5-6" class="n" transform="translate(294.5 227.8)"><circle r="12"/><rect x="21.5" y="15.5" width="17.5" height="15.5"/><text x="22.5" y="29">0.5</text></g>
<g id="n5-5" class="n" transform="translate(250.5 227.8)"><circle r="12"/><rect x="21.5" y="15.5" width="17.5" height="15.5"/><text x="22.5" y="29">0.5</text></g>
<g id="n5-4" class="n" transform="translate(206.5 227.8)"><circle r="12"/><rect x="21.5" y="15.5" width="17.5" height="15.5"/><text x="22.5" y="29">0.5</text></g>
<g id="n5-3" class="n" transform="translate(162.5 227.8)"><circle r="12"/><rect x="21.5" y="15.5" width="17.5" height="15.5"/><text x="22.5" y="29">0.5</text></g>
<g id="n5-2" class="n" transform="translate(118.5 227.8)"><circle r="12"/><rect x="21.5" y="15.5" width="17.5" height="15.5"/><text x="22.5" y="29">0.5</text></g>
<g id="n5-1" class="n" transform="translate(74.5 227.8)"><circle r="12"/><rect x="21.5" y="15.5" width="17.5" height="15.5"/><text x="22.5" y="29">0.5</text></g>
<g id="n5-0" class="n" transform="translate(30.5 227.8)"><circle r="12"/><rect x="21.5" y="15.5" width="17.5" height="15.5"/><text x="22.5" y="29">0.5</text></g>
<g id="n4-26" class="n" transform="translate(1174.5 186.4)"><circle r="12"/><rect x="21.5" y="15.5" width="17.5" height="15.5"/><text x="22.5" y="29">0.5</text></g>
<g id="n4-25" class="n" transform="translate(1130.5 186.4)"><circle r="12"/><rect x="21.5" y="15.5" width="17.5" height="15.5"/><text x="22.5" y="29">0.5</text></g>
<g id="n4-24" class="n" transform="translate(1086.5 186.4)"><circle r="12"/><rect x="21.5" y="15.5" width="17.5" height="15.5"/><text x="22.5" y="29">0.5</text></g>
<g id="n4-23" class="n" transform="translate(1042.5 186.4)"><circle r="12"/><rect x="21.5" y="15.5" width="17.5" height="15.5"/><text x="22.5" y="29">0.5</text></g>
<g id="n4-22" class="n" transform="translate(998.5 186.4)"><circle r="12"/><rect x="21.5" y="15.5" width="17.5" height="15.5"/><text x="22.5" y="29">0.5</text></g>
<g id="n4-21" class="n" transform="translate(954.5 186.4)"><circle r="12"/><rect x="21.5" y="15.5" width="17.5" height="15.5"/><text x="22.5" y="29">0.5</text></g>
<g id="n4-20" class="n" transform="translate(910.5 186.4)"><circle r="12"/><rect x="21.5" y="15.5" width="17.5" height="15.5"/><text x="22.5" y="29">0.5</text></g>
<g id="n4-19" class="n" transform="translate(866.5 186.4)"><circle r="12"/><rect x="21.5" y="15.5" width="17.5" height="15.5"/><text x="22.5" y="29">0.5</text></g>
<g id="n4-18" class="n" transform="translate(822.5 186.4)"><circle r="12"/><rect x="21.5" y="15.5" width="17.5" height="15.5"/><text x="22.5" y="29">0.5</text></g>
<g id="n4-17" class="n" transform="translate(778.5 186.4)"><circle r="12"/><rect x="21.5" y="15.5" width="17.5" height="15.5"/><text x="22.5" y="29">0.5</text></g>
<g id="n4-16" class="n" transform="translate(734.5 186.4)"><circle r="12"/><rect x="21.5" y="15.5" width="17.5" height="15.5"/><text x="22.5" y="29">0.5</text></g>
<g id="n4-15" class="n" transform="translate(690.5 186.4)"><circle r="12"/><rect x="21.5" y="15.5" width="17.5" height="15.5"/><text x="22.5" y="29">0.5</text></g>
<g id="n4-14" class="n" transform="translate(646.5 186.4)"><circle r="12"/><rect x="21.5" y="15.5" width="17.5" height="15.5"/><text x="22.5" y="29">0.5</text></g>
<g id="n4-13" class="n" transform="translate(602.5 186.4)"><circle r="12"/><rect x="21.5" y="15.5" width="17.5" height="15.5"/><text x="22.5" y="29">0.5</text></g>
<g id="n4-12" class="n" transform="translate(558.5 186.4)"><circle r="12"/><rect x="21.5" y="15.5" width="17.5" height="15.5"/><text x="22.5" y="29">0.5</text></g>
<g id="n4-11" class="n" transform="translate(514.5 186.4)"><circle r="12"/><rect x="21.5" y="15.5" width="17.5" height="15.5"/><text x="22.5" y="29">0.5</text></g>
<g id="n4-10" class="n" transform="translate(470.5 186.4)"><circle r="12"/><rect x="21.5" y="15.5" width="17.5" height="15.5"/><text x="22.5" y="29">0.5</text></g>
<g id="n4-9" class="n" transform="translate(426.5 186.4)"><circle r="12"/><rect x="21.5" y="15.5" width="17.5" height="15.5"/><text x="22.5" y="29">0.5</text></g>
<g id="n4-8" class="n" transform="translate(382.5 186.4)"><circle r="12"/><rect x="21.5" y="15.5" width="17.5" height="15.5"/><text x="22.5" y="29">0.5</text></g>
<g id="n4-7" class="n" transform="translate(338.5 186.4)"><circle r="12"/><rect x="21.5" y="15.5" width="17.5" height="15.5"/><text x="22.5" y="29">0.5</text></g>
<g id="n4-6" class="n" transform="translate(294.5 186.4)"><circle r="12"/><rect x="21.5" y="15.5" width="17.5" height="15.5"/><text x="22.5" y="29">0.5</text></g>
<g id="n4-5" class="n" transform="translate(250.5 186.4)"><circle r="12"/><rect x="21.5" y="15.5" width="17.5" height="15.5"/><text x="22.5" y="29">0.5</text></g>
<g id="n4-4" class="n" transform="translate(206.5 186.4)"><circle r="12"/><rect x="21.5" y="15.5" width="17.5" height="15.5"/><text x="22.5" y="29">0.5</text></g>
<g id="n4-3" class="n" transform="translate(162.5 186.4)"><circle r="12"/><rect x="21.5" y="15.5" width="17.5" height="15.5"/><text x="22.5" y="29">0.5</text></g>
<g id="n4-2" class="n" transform="translate(118.5 186.4)"><circle r="12"/><rect x="21.5" y="15.5" width="17.5" height="15.5"/><text x="22.5" y="29">0.5</text></g>
<g id="n4-1" class="n" transform="translate(74.5 186.4)"><circle r="12"/><rect x="21.5" y="15.5" width="17.5" height="15.5"/><text x="22.5" y="29">0.5</text></g>
<g id="n4-0" class="n" transform="translate(30.5 186.4)"><circle r="12"/><rect x="21.5" y="15.5" width="17.5" height="15.5"/><text x="22.5" y="29">0.5</text></g>
<g id="n3-26" class="n" transform="translate(1174.5 145.1)"><circle r="12"/><rect x="21.5" y="15.5" width="17.5" height="15.5"/><text x="22.5" y="29">0.5</text></g>
<g id="n3-25" class="n" transform="translate(1130.5 145.1)"><circle r="12"/><rect x="21.5" y="15.5" width="17.5" height="15.5"/><text x="22.5" y="29">0.5</text></g>
<g id="n3-24" class="n" transform="translate(1086.5 145.1)"><circle r="12"/><rect x="21.5" y="15.5" width="17.5" height="15.5"/><text x="22.5" y="29">0.5</text></g>
<g id="n3-23" class="n" transform="translate(1042.5 145.1)"><circle r="12"/><rect x="21.5" y="15.5" width="17.5" height="15.5"/><text x="22.5" y="29">0.5</text></g>
<g id="n3-22" class="n" transform="translate(998.5 145.1)"><circle r="12"/><rect x="21.5" y="15.5" width="17.5" height="15.5"/><text x="22.5" y="29">0.5</text></g>
<g id="n3-21" class="n" transform="translate(954.5 145.1)"><circle r="12"/><rect x="21.5" y="15.5" width="17.5" height="15.5"/><text x="22.5" y="29">0.5</text></g>
<g id="n3-20" class="n" transform="translate(910.5 145.1)"><circle r="12"/><rect x="21.5" y="15.5" width="17.5" height="15.5"/><text x="22.5" y="29">0.5</text></g>
<g id="n3-19" class="n" transform="translate(866.5 145.1)"><circle r="12"/><rect x="21.5" y="15.5" width="17.5" height="15.5"/><text x="22.5" y="29">0.5</text></g>
<g id="n3-18" class="n" transform="translate(822.5 145.1)"><circle r="12"/><rect x="21.5" y="15.5" width="17.5" height="15.5"/><text x="22.5" y="29">0.5</text></g>
<g id="n3-17" class="n" transform="translate(778.5 145.1)"><circle r="12"/><rect x="21.5" y="15.5" width="17.5" height="15.5"/><text x="22.5" y="29">0.5</text></g>
<g id="n3-16" class="n" transform="translate(734.5 145.1)"><circle r="12"/><rect x="21.5" y="15.5" width="17.5" height="15.5"/><text x="22.5" y="29">0.5</text></g>
<g id="n3-15" class="n" transform="translate(690.5 145.1)"><circle r="12"/><rect x="21.5" y="15.5" width="17.5" height="15.5"/><text x="22.5" y="29">0.5</text></g>
<g id="n3-14" class="n" transform="translate(646.5 145.1)"><circle r="12"/><rect x="21.5" y="15.5" width="17.5" height="15.5"/><text x="22.5" y="29">0.5</text></g>
<g id="n3-13" class="n" transform="translate(602.5 145.1)"><circle r="12"/><rect x="21.5" y="15.5" width="17.5" height="15.5"/><text x="22.5" y="29">0.5</text></g>
<g id="n3-12" class="n" transform="translate(558.5 145.1)"><circle r="12"/><rect x="21.5" y="15.5" width="17.5" height="15.5"/><text x="22.5" y="29">0.5</text></g>
<g id="n3-11" class="n" transform="translate(514.5 145.1)"><circle r="12"/><rect x="21.5" y="15.5" width="17.5" height="15.5"/><text x="22.5" y="29">0.5</text></g>
<g id="n3-10" class="n" transform="translate(470.5 145.1)"><circle r="12"/><rect x="21.5" y="15.5" width="17.5" height="15.5"/><text x="22.5" y="29">0.5</text></g>
<g id="n3-9" class="n" transform="translate(426.5 145.1)"><circle r="12"/><rect x="21.5" y="15.5" width="17.5" height="15.5"/><text x="22.5" y="29">0.5</text></g>
<g id="n3-8" class="n" transform="translate(382.5 145.1)"><circle r="12"/><rect x="21.5" y="15.5" width="17.5" height="15.5"/><text x="22.5" y="29">0.5</text></g>
<g id="n3-7" class="n" transform="translate(338.5 145.1)"><circle r="12"/><rect x="21.5" y="15.5" width="17.5" height="15.5"/><text x="22.5" y="29">0.5</text></g>
<g id="n3-6" class="n" transform="translate(294.5 145.1)"><circle r="12"/><rect x="21.5" y="15.5" width="17.5" height="15.5"/><text x="22.5" y="29">0.5</text></g>
<g id="n3-5" class="n" transform="translate(250.5 145.1)"><circle r="12"/><rect x="21.5" y="15.5" width="17.5" height="15.5"/><text x="22.5" y="29">0.5</text></g>
<g id="n3-4" class="n" transform="translate(206.5 145.1)"><circle r="12"/><rect x="21.5" y="15.5" width="17.5" height="15.5"/><text x="22.5" y="29">0.5</text></g>
<g id="n3-3" class="n" transform="translate(162.5 145.1)"><circle r="12"/><rect x="21.5" y="15.5" width="17.5" height="15.5"/><text x="22.5" y="29">0.5</text></g>
<g id="n3-2" class="n" transform="translate(118.5 145.1)"><circle r="12"/><rect x="21.5" y="15.5" width="17.5" height="15.5"/><text x="22.5" y="29">0.5</text></g>
<g id="n3-1" class="n" transform="translate(74.5 145.1)"><circle r="12"/><rect x="21.5" y="15.5" width="17.5" height="15.5"/><text x="22.5" y="29">0.5</text></g>
<g id="n3-0" class="n" transform="translate(30.5 145.1)"><circle r="12"/><rect x="21.5" y="15.5" width="17.5" height="15.5"/><text x="22.5" y="29">0.5</text></g>
<g id="n2-26" class="n" transform="translate(1174.5 103.7)"><circle r="12"/><rect x="21.5" y="15.5" width="17.5" height="15.5"/><text x="22.5" y="29">0.5</text></g>
<g id="n2-25" class="n" transform="translate(1130.5 103.7)"><circle r="12"/><rect x="21.5" y="15.5" width="17.5" height="15.5"/><text x="22.5" y="29">0.5</text></g>
<g id="n2-24" class="n" transform="translate(1086.5 103.7)"><circle r="12"/><rect x="21.5" y="15.5" width="17.5" height="15.5"/><text x="22.5" y="29">0.5</text></g>
<g id="n2-23" class="n" transform="translate(1042.5 103.7)"><circle r="12"/><rect x="21.5" y="15.5" width="17.5" height="15.5"/><text x="22.5" y="29">0.5</text></g>
<g id="n2-22" class="n" transform="translate(998.5 103.7)"><circle r="12"/><rect x="21.5" y="15.5" width="17.5" height="15.5"/><text x="22.5" y="29">0.5</text></g>
<g id="n2-21" class="n" transform="translate(954.5 103.7)"><circle r="12"/><rect x="21.5" y="15.5" width="17.5" height="15.5"/><text x="22.5" y="29">0.5</text></g>
<g id="n2-20" class="n" transform="translate(910.5 103.7)"><circle r="12"/><rect x="21.5" y="15.5" width="17.5" height="15.5"/><text x="22.5" y="29">0.5</text></g>
<g id="n2-19" class="n" transform="translate(866.5 103.7)"><circle r="12"/><rect x="21.5" y="15.5" width="17.5" height="15.5"/><text x="22.5" y="29">0.5</text></g>
<g id="n2-18" class="n" transform="translate(822.5 103.7)"><circle r="12"/><rect x="21.5" y="15.5" width="17.5" height="15.5"/><text x="22.5" y="29">0.5</text></g>
<g id="n2-17" class="n" transform="translate(778.5 103.7)"><circle r="12"/><rect x="21.5" y="15.5" width="17.5" height="15.5"/><text x="22.5" y="29">0.5</text></g>
<g id="n2-16" class="n" transform="translate(734.5 103.7)"><circle r="12"/><rect x="21.5" y="15.5" width="17.5" height="15.5"/><text x="22.5" y="29">0.5</text></g>
<g id="n2-15" class="n" transform="translate(690.5 103.7)"><circle r="12"/><rect x="21.5" y="15.5" width="17.5" height="15.5"/><text x="22.5" y="29">0.5</text></g>
<g id="n2-14" class="n" transform="translate(646.5 103.7)"><circle r="12"/><rect x="21.5" y="15.5" width="17.5" height="15.5"/><text x="22.5" y="29">0.5</text></g>
<g id="n2-13" class="n" transform="translate(602.5 103.7)"><circle r="12"/><rect x="21.5" y="15.5" width="17.5" height="15.5"/><text x="22.5" y="29">0.5</text></g>
<g id="n2-12" class="n" transform="translate(558.5 103.7)"><circle r="12"/><rect x="21.5" y="15.5" width="17.5" height="15.5"/><text x="22.5" y="29">0.5</text></g>
<g id="n2-11" class="n" transform="translate(514.5 103.7)"><circle r="12"/><rect x="21.5" y="15.5" width="17.5" height="15.5"/><text x="22.5" y="29">0.5</text></g>
<g id="n2-10" class="n" transform="translate(470.5 103.7)"><circle r="12"/><rect x="21.5" y="15.5" width="17.5" height="15.5"/><text x="22.5" y="29">0.5</text></g>
<g id="n2-9" class="n" transform="translate(426.5 103.7)"><circle r="12"/><rect x="21.5" y="15.5" width="17.5" height="15.5"/><text x="22.5" y="29">0.5</text></g>
<g id="n2-8" class="n" transform="translate(382.5 103.7)"><circle r="12"/><rect x="21.5" y="15.5" width="17.5" height="15.5"/><text x="22.5" y="29">0.5</text></g>
<g id="n2-7" class="n" transform="translate(338.5 103.7)"><circle r="12"/><rect x="21.5" y="15.5" width="17.5" height="15.5"/><text x="22.5" y="29">0.5</text></g>
<g id="n2-6" class="n" transform="translate(294.5 103.7)"><circle r="12"/><rect x="21.5" y="15.5" width="17.5" height="15.5"/><text x="22.5" y="29">0.5</text></g>
<g id="n2-5" class="n" transform="translate(250.5 103.7)"><circle r="12"/><rect x="21.5" y="15.5" width="17.5" height="15.5"/><text x="22.5" y="29">0.5</text></g>
<g id="n2-4" class="n" transform="translate(206.5 103.7)"><circle r="12"/><rect x="21.5" y="15.5" width="17.5" height="15.5"/><text x="22.5" y="29">0.5</text></g>
<g id="n2-3" class="n" transform="translate(162.5 103.7)"><circle r="12"/><rect x="21.5" y="15.5" width="17.5" height="15.5"/><text x="22.5" y="29">0.5</text></g>
<g id="n2-2" class="n" transform="translate(118.5 103.7)"><circle r="12"/><rect x="21.5" y="15.5" width="17.5" height="15.5"/><text x="22.5" y="29">0.5</text></g>
<g id="n2-1" class="n" transform="translate(74.5 103.7)"><circle r="12"/><rect x="21.5" y="15.5" width="17.5" height="15.5"/><text x="22.5" y="29">0.5</text></g>
<g id="n2-0" class="n" transform="translate(30.5 103.7)"><circle r="12"/><rect x="21.5" y="15.5" width="17.5" height="15.5"/><text x="22.5" y="29">0.5</text></g>
<g id="n1-26" class="n" transform="translate(1174.5 62.4)"><circle r="12"/><rect x="21.5" y="15.5" width="17.5" height="15.5"/><text x="22.5" y="29">0.5</text></g>
<g id="n1-25" class="n" transform="translate(1130.5 62.4)"><circle r="12"/><rect x="21.5" y="15.5" width="17.5" height="15.5"/><text x="22.5" y="29">0.5</text></g>
<g id="n1-24" class="n" transform="translate(1086.5 62.4)"><circle r="12"/><rect x="21.5" y="15.5" width="17.5" height="15.5"/><text x="22.5" y="29">0.5</text></g>
<g id="n1-23" class="n" transform="translate(1042.5 62.4)"><circle r="12"/><rect x="21.5" y="15.5" width="17.5" height="15.5"/><text x="22.5" y="29">0.5</text></g>
<g id="n1-22" class="n" transform="translate(998.5 62.4)"><circle r="12"/><rect x="21.5" y="15.5" width="17.5" height="15.5"/><text x="22.5" y="29">0.5</text></g>
<g id="n1-21" class="n" transform="translate(954.5 62.4)"><circle r="12"/><rect x="21.5" y="15.5" width="17.5" height="15.5"/><text x="22.5" y="29">0.5</text></g>
<g id="n1-20" class="n" transform="translate(910.5 62.4)"><circle r="12"/><rect x="21.5" y="15.5" width="17.5" height="15.5"/><text x="22.5" y="29">0.5</text></g>
<g id="n1-19" class="n" transform="translate(866.5 62.4)"><circle r="12"/><rect x="21.5" y="15.5" width="17.5" height="15.5"/><text x="22.5" y="29">0.5</text></g>
<g id="n1-18" class="n" transform="translate(822.5 62.4)"><circle r="12"/><rect x="21.5" y="15.5" width="17.5" height="15.5"/><text x="22.5" y="29">0.5</text></g>
<g id="n1-17" class="n" transform="translate(778.5 62.4)"><circle r="12"/><rect x="21.5" y="15.5" width="17.5" height="15.5"/><text x="22.5" y="29">0.5</text></g>
<g id="n1-16" class="n" transform="translate(734.5 62.4)"><circle r="12"/><rect x="21.5" y="15.5" width="17.5" height="15.5"/><text x="22.5" y="29">0.5</text></g>
<g id="n1-15" class="n" transform="translate(690.5 62.4)"><circle r="12"/><rect x="21.5" y="15.5" width="17.5" height="15.5"/><text x="22.5" y="29">0.5</text></g>
<g id="n1-14" class="n" transform="translate(646.5 62.4)"><circle r="12"/><rect x="21.5" y="15.5" width="17.5" height="15.5"/><text x="22.5" y="29">0.5</text></g>
<g id="n1-13" class="n" transform="translate(602.5 62.4)"><circle r="12"/><rect x="21.5" y="15.5" width="17.5" height="15.5"/><text x="22.5" y="29">0.5</text></g>
<g id="n1-12" class="n" transform="translate(558.5 62.4)"><circle r="12"/><rect x="21.5" y="15.5" width="17.5" height="15.5"/><text x="22.5" y="29">0.5</text></g>
<g id="n1-11" class="n" transform="translate(514.5 62.4)"><circle r="12"/><rect x="21.5" y="15.5" width="17.5" height="15.5"/><text x="22.5" y="29">0.5</text></g>
<g id="n1-10" class="n" transform="translate(470.5 62.4)"><circle r="12"/><rect x="21.5" y="15.5" width="17.5" height="15.5"/><text x="22.5" y="29">0.5</text></g>
<g id="n1-9" class="n" transform="translate(426.5 62.4)"><circle r="12"/><rect x="21.5" y="15.5" width="17.5" height="15.5"/><text x="22.5" y="29">0.5</text></g>
<g id="n1-8" class="n" transform="translate(382.5 62.4)"><circle r="12"/><rect x="21.5" y="15.5" width="17.5" height="15.5"/><text x="22.5" y="29">0.5</text></g>
<g id="n1-7" class="n" transform="translate(338.5 62.4)"><circle r="12"/><rect x="21.5" y="15.5" width="17.5" height="15.5"/><text x="22.5" y="29">0.5</text></g>
<g id="n1-6" class="n" transform="translate(294.5 62.4)"><circle r="12"/><rect x="21.5" y="15.5" width="17.5" height="15.5"/><text x="22.5" y="29">0.5</text></g>
<g id="n1-5" class="n" transform="translate(250.5 62.4)"><circle r="12"/><rect x="21.5" y="15.5" width="17.5" height="15.5"/><text x="22.5" y="29">0.5</text></g>
<g id="n1-4" class="n" transform="translate(206.5 62.4)"><circle r="12"/><rect x="21.5" y="15.5" width="17.5" height="15.5"/><text x="22.5" y="29">0.5</text></g>
<g id="n1-3" class="n" transform="translate(162.5 62.4)"><circle r="12"/><rect x="21.5" y="15.5" width="17.5" height="15.5"/><text x="22.5" y="29">0.5</text></g>
<g id="n1-2" class="n" transform="translate(118.5 62.4)"><circle r="12"/><rect x="21.5" y="15.5" width="17.5" height="15.5"/><text x="22.5" y="29">0.5</text></g>
<g id="n1-1" class="n" transform="translate(74.5 62.4)"><circle r="12"/><rect x="21.5" y="15.5" width="17.5" height="15.5"/><text x="22.5" y="29">0.5</text></g>
<g id="n1-0" class="n" transform="translate(30.5 62.4)"><circle r="12"/><rect x="21.5" y="15.5" width="17.5" height="15.5"/><text x="22.5" y="29">0.5</text></g>
<g id="n0-26" class="n" transform="translate(1174.5 21)"><circle r="12"/><rect x="21.5" y="15.5" width="17.5" height="15.5"/><text x="22.5" y="29">0.5</text></g>
<g id="n0-25" class="n" transform="translate(1130.5 21)"><circle r="12"/><rect x="21.5" y="15.5" width="17.5" height="15.5"/><text x="22.5" y="29">0.5</text></g>
<g id="n0-24" class="n" transform="translate(1086.5 21)"><circle r="12"/><rect x="21.5" y="15.5" width="17.5" height="15.5"/><text x="22.5" y="29">0.5</text></g>
<g id="n0-23" class="n" transform="translate(1042.5 21)"><circle r="12"/><rect x="21.5" y="15.5" width="17.5" height="15.5"/><text x="22.5" y="29">0.5</text></g>
<g id="n0-22" class="n" transform="translate(998.5 21)"><circle r="12"/><rect x="21.5" y="15.5" width="17.5" height="15.5"/><text x="22.5" y="29">0.5</text></g>
<g id="n0-21" class="n" transform="translate(954.5 21)"><circle r="12"/><rect x="21.5" y="15.5" width="17.5" height="15.5"/><text x="22.5" y="29">0.5</text></g>
<g id="n0-20" class="n" transform="translate(910.5 21)"><circle r="12"/><rect x="21.5" y="15.5" width="17.5" height="15.5"/><text x="22.5" y="29">0.5</text></g>
<g id="n0-19" class="n" transform="translate(866.5 21)"><circle r="12"/><rect x="21.5" y="15.5" width="17.5" height="15.5"/><text x="22.5" y="29">0.5</text></g>
<g id="n0-18" class="n" transform="translate(822.5 21)"><circle r="12"/><rect x="21.5" y="15.5" width="17.5" height="15.5"/><text x="22.5" y="29">0.5</text></g>
<g id="n0-17" class="n" transform="translate(778.5 21)"><circle r="12"/><rect x="21.5" y="15.5" width="17.5" height="15.5"/><text x="22.5" y="29">0.5</text></g>
<g id="n0-16" class="n" transform="translate(734.5 21)"><circle r="12"/><rect x="21.5" y="15.5" width="17.5" height="15.5"/><text x="22.5" y="29">0.5</text></g>
<g id="n0-15" class="n" transform="translate(690.5 21)"><circle r="12"/><rect x="21.5" y="15.5" width="17.5" height="15.5"/><text x="22.5" y="29">0.5</text></g>
<g id="n0-14" class="n" transform="translate(646.5 21)"><circle r="12"/><rect x="21.5" y="15.5" width="17.5" height="15.5"/><text x="22.5" y="29">0.5</text></g>
<g id="n0-13" class="n" transform="translate(602.5 21)"><circle r="12"/><rect x="21.5" y="15.5" width="17.5" height="15.5"/><text x="22.5" y="29">0.5</text></g>
<g id="n0-12" class="n" transform="translate(558.5 21)"><circle r="12"/><rect x="21.5" y="15.5" width="17.5" height="15.5"/><text x="22.5" y="29">0.5</text></g>
<g id="n0-11" class="n" transform="translate(514.5 21)"><circle r="12"/><rect x="21.5" y="15.5" width="17.5" height="15.5"/><text x="22.5" y="29">0.5</text></g>
<g id="n0-10" class="n" transform="translate(470.5 21)"><circle r="12"/><rect x="21.5" y="15.5" width="17.5" height="15.5"/><text x="22.5" y="29">0.5</text></g>
<g id="n0-9" class="n" transform="translate(426.5 21)"><circle r="12"/><rect x="21.5" y="15.5" width="17.5" height="15.5"/><text x="22.5" y="29">0.5</text></g>
<g id="n0-8" class="n" transform="translate(382.5 21)"><circle r="12"/><rect x="21.5" y="15.5" width="17.5" height="15.5"/><text x="22.5" y="29">0.5</text></g>
<g id="n0-7" class="n" transform="translate(338.5 21)"><circle r="12"/><rect x="21.5" y="15.5" width="17.5" height="15.5"/><text x="22.5" y="29">0.5</text></g>
<g id="n0-6" class="n" transform="translate(294.5 21)"><circle r="12"/><rect x="21.5" y="15.5" width="17.5" height="15.5"/><text x="22.5" y="29">0.5</text></g>
<g id="n0-5" class="n" transform="translate(250.5 21)"><circle r="12"/><rect x="21.5" y="15.5" width="17.5" height="15.5"/><text x="22.5" y="29">0.5</text></g>
<g id="n0-4" class="n" transform="translate(206.5 21)"><circle r="12"/><rect x="21.5" y="15.5" width="17.5" height="15.5"/><text x="22.5" y="29">0.5</text></g>
<g id="n0-3" class="n" transform="translate(162.5 21)"><circle r="12"/><rect x="21.5" y="15.5" width="17.5" height="15.5"/><text x="22.5" y="29">0.5</text></g>
<g id="n0-2" class="n" transform="translate(118.5 21)"><circle r="12"/><rect x="21.5" y="15.5" width="17.5" height="15.5"/><text x="22.5" y="29">0.5</text></g>
<g id="n0-1" class="n" transform="translate(74.5 21)"><circle r="12"/><rect x="21.5" y="15.5" width="17.5" height="15.5"/><text x="22.5" y="29">0.5</text></g>
<g id="n0-0" class="n" transform="translate(30.5 21)"><circle r="12"/><rect x="21.5" y="15.5" width="17.5" height="15.5"/><text x="22.5" y="29">0.5</text></g>
</g>
</svg>
